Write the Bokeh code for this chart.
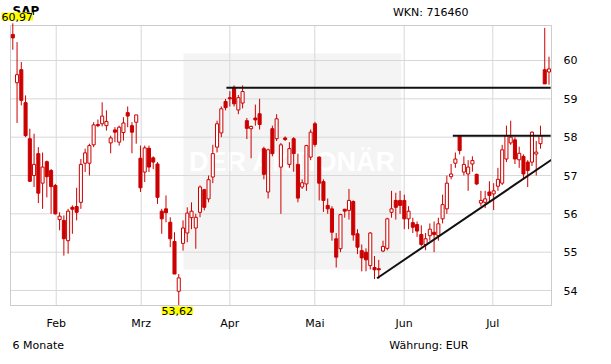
from bokeh.plotting import figure
from bokeh.models import ColumnDataSource, FixedTicker, Label, BoxAnnotation, Range1d
from bokeh.embed import file_html
from bokeh.resources import INLINE

# ---- data ----
opens = [60.68, 59.42, 59.76, 58.90, 57.96, 57.00, 57.57, 56.80, 57.36, 57.13,
         56.74, 55.85, 55.83, 55.30, 56.17, 56.19, 56.30, 57.32, 57.32, 57.80,
         58.33, 58.35, 58.30, 57.85, 58.19, 57.87, 58.12, 58.64, 58.30, 58.39,
         57.45, 57.09, 57.71, 57.46, 57.30, 56.07, 56.13, 55.78, 55.28, 53.98,
         55.23, 55.50, 55.90, 55.63, 56.04, 56.63, 56.39, 56.96, 57.74, 58.11,
         58.93, 59.03, 59.30, 58.71, 58.89, 58.43, 58.22, 58.50, 58.61, 57.70,
         56.57, 58.22, 57.96, 57.22, 57.98, 57.29, 57.96, 57.29, 56.70, 56.78,
         57.48, 58.35, 57.48, 56.84, 56.22, 56.13, 55.35, 55.09, 56.12, 56.09,
         56.32, 55.48, 55.04, 55.00, 54.65, 54.60, 54.57, 55.03, 55.10, 56.04,
         56.35, 56.35, 56.35, 55.87, 55.77, 55.72, 55.46, 55.20, 55.43, 55.52,
         55.43, 55.87, 56.13, 56.97, 57.32, 58.02, 57.09, 57.04, 57.30, 57.03,
         56.28, 56.30, 56.57, 56.52, 56.72, 56.80, 57.43, 57.85, 57.93, 57.41,
         57.50, 57.35, 57.35, 57.56, 57.83, 59.76, 59.70]
highs = [60.97, 60.48, 59.96, 59.09, 58.22, 58.09, 57.74, 57.60, 57.39, 57.17,
         56.78, 56.04, 55.96, 56.13, 56.22, 56.68, 57.43, 57.70, 57.83, 58.39,
         58.46, 58.91, 58.70, 58.04, 58.26, 58.30, 58.52, 58.80, 58.39, 58.58,
         57.78, 57.78, 57.78, 57.50, 57.35, 56.13, 56.48, 55.91, 55.52, 54.43,
         55.83, 56.17, 56.30, 56.00, 56.74, 56.65, 57.00, 57.80, 58.43, 58.80,
         59.00, 59.20, 59.35, 59.10, 59.35, 58.50, 58.30, 58.85, 59.00, 57.75,
         57.70, 58.30, 58.60, 57.85, 58.02, 57.87, 58.00, 57.57, 56.90, 57.80,
         58.20, 58.40, 57.50, 56.90, 56.40, 56.20, 55.50, 56.00, 56.13, 56.65,
         56.35, 55.60, 55.20, 55.10, 55.52, 54.90, 54.80, 55.30, 55.90, 56.60,
         56.55, 56.60, 56.50, 56.20, 55.90, 55.80, 55.70, 55.50, 55.75, 55.80,
         55.90, 56.50, 57.00, 57.30, 57.60, 58.02, 57.50, 57.40, 57.50, 57.05,
         56.60, 56.60, 56.85, 56.80, 57.20, 57.80, 58.30, 58.43, 58.00, 57.75,
         57.55, 57.40, 58.15, 57.90, 58.30, 60.85, 60.10]
lows = [60.28, 58.37, 58.83, 58.00, 56.83, 56.70, 56.28, 56.13, 56.43, 56.00,
        55.98, 55.57, 54.91, 54.96, 55.48, 55.83, 56.13, 57.09, 57.00, 57.74,
        58.26, 58.28, 58.17, 57.58, 57.87, 57.78, 57.91, 58.26, 57.58, 57.83,
        56.57, 56.83, 57.09, 57.17, 56.26, 55.48, 55.78, 55.13, 54.43, 53.62,
        55.04, 55.26, 55.60, 55.09, 55.91, 56.09, 56.30, 56.80, 57.60, 58.00,
        58.70, 58.80, 58.80, 58.60, 58.75, 57.95, 57.45, 58.30, 58.20, 56.90,
        56.40, 57.50, 57.90, 56.00, 57.90, 57.20, 57.10, 56.30, 56.65, 56.60,
        57.40, 57.75, 56.35, 56.05, 56.00, 55.30, 54.60, 55.00, 55.90, 55.85,
        55.30, 54.95, 54.50, 54.50, 54.55, 54.30, 54.31, 55.00, 55.05, 55.90,
        55.85, 56.00, 55.60, 55.60, 55.50, 55.40, 55.15, 55.05, 55.30, 55.00,
        55.30, 55.75, 56.00, 56.90, 57.20, 57.55, 57.00, 56.60, 57.10, 56.75,
        56.20, 56.15, 56.30, 56.10, 56.60, 56.75, 57.35, 57.80, 57.30, 57.20,
        56.90, 56.70, 57.25, 57.00, 57.70, 59.39, 59.37]
closes = [60.59, 59.63, 58.96, 58.04, 56.85, 57.29, 56.54, 57.22, 56.97, 56.71,
          56.00, 55.94, 55.35, 56.07, 56.12, 56.04, 57.29, 57.59, 57.78, 58.32,
          58.30, 58.55, 58.41, 57.98, 58.13, 58.26, 58.37, 58.55, 58.13, 58.58,
          56.68, 57.72, 57.22, 57.35, 56.43, 55.87, 56.03, 55.35, 54.43, 54.33,
          55.63, 56.02, 56.07, 55.91, 56.70, 56.17, 56.89, 57.57, 58.35, 58.74,
          58.77, 59.00, 58.87, 59.03, 59.19, 58.23, 58.28, 58.45, 58.33, 57.03,
          57.67, 57.57, 58.48, 57.80, 57.94, 57.70, 57.57, 56.41, 56.81, 57.78,
          58.13, 57.81, 56.80, 56.35, 56.13, 55.52, 54.87, 55.98, 56.07, 56.35,
          55.45, 55.13, 54.85, 54.80, 55.50, 54.54, 54.54, 55.15, 55.87, 56.13,
          56.17, 56.22, 55.87, 56.07, 55.65, 55.55, 55.20, 55.35, 55.60, 55.46,
          55.74, 56.24, 56.80, 57.04, 57.43, 57.65, 57.29, 57.22, 57.39, 56.78,
          56.35, 56.39, 56.48, 56.60, 56.90, 57.67, 58.04, 58.00, 57.43, 57.58,
          57.04, 57.13, 58.13, 57.61, 58.04, 59.39, 59.78]

month_pos = [10.2, 30.17, 50.99, 70.97, 91.97, 112.79]
month_labels = ["Feb", "Mrz", "Apr", "Mai", "Jun", "Jul"]
price_ticks = [54, 55, 56, 57, 58, 59, 60]

resist_x0 = [50.2, 103.4]
resist_x1 = [126.4, 126.4]
resist_y = [59.29, 58.04]
support_x = [85.6, 126.59]
support_y = [54.32, 57.41]

# chart box (data units) and full-canvas ranges
XL, XR = -0.54, 126.59
YB, YT = 53.609, 60.913
CX0, CX1 = -2.890, 140.689
CY0, CY1 = 52.070, 61.565

RED = "#cc0000"
GRID = "#d8d8d8"
FONT = "DejaVu Sans"

n = len(opens)
xs = list(range(n))
src = ColumnDataSource(dict(
    x=xs, o=opens, h=highs, l=lows, c=closes,
    top=[max(a, b) for a, b in zip(opens, closes)],
    bottom=[min(a, b) for a, b in zip(opens, closes)],
    fill=["white" if c >= o else RED for o, c in zip(opens, closes)],
))

p = figure(width=611, height=364, x_range=Range1d(CX0, CX1),
           y_range=Range1d(CY0, CY1), output_backend="svg",
           toolbar_location=None, y_axis_location="right",
           min_border=0)
p.outline_line_color = None
p.background_fill_color = "white"
p.border_fill_color = "white"
p.xgrid.visible = False
p.ygrid.visible = False

# watermark block
p.add_layout(BoxAnnotation(left=40.1, right=91.3, bottom=54.55, top=60.18,
                           fill_color="#f4f4f4", fill_alpha=1.0, line_color=None,
                           level="image"))
p.add_layout(Label(x=292, y=203, x_units="screen", y_units="screen",
                   text="DER AKTIONÄR", text_font="Liberation Sans",
                   text_font_style="bold", text_font_size="27px",
                   text_color="#ffffff", text_align="center",
                   text_baseline="middle", level="image"))

# grid lines at tick positions
p.segment(x0=month_pos, y0=[YB] * len(month_pos), x1=month_pos, y1=[YT] * len(month_pos),
          line_color=GRID, line_width=1)
p.segment(x0=[XL] * len(price_ticks), y0=price_ticks, x1=[XR] * len(price_ticks),
          y1=price_ticks, line_color=GRID, line_width=1)
# chart frame
p.quad(left=[XL], right=[XR], bottom=[YB], top=[YT], fill_color=None,
       line_color="#cccccc", line_width=1)

# axes
p.xaxis.ticker = FixedTicker(ticks=month_pos)
p.xaxis.major_label_overrides = {pos: lab for pos, lab in zip(month_pos, month_labels)}
p.xaxis.fixed_location = YB
p.xaxis.bounds = (XL, XR)
p.yaxis.ticker = FixedTicker(ticks=price_ticks)
p.yaxis.fixed_location = XR
p.yaxis.bounds = (YB, YT)
for ax in (p.xaxis[0], p.yaxis[0]):
    ax.axis_line_color = "#cccccc"
    ax.major_tick_line_color = None
    ax.minor_tick_line_color = None
    ax.major_label_text_font = FONT
    ax.major_label_text_font_size = "11px"
    ax.major_label_text_color = "black"
p.xaxis.major_label_standoff = 5
p.yaxis.major_label_standoff = 6

# candles
p.segment(x0="x", y0="h", x1="x", y1="l", source=src, line_color=RED, line_width=1)
p.vbar(x="x", width=0.72, top="top", bottom="bottom", source=src,
       fill_color="fill", line_color=RED, line_width=1)

# trend lines
p.segment(x0=resist_x0, y0=resist_y, x1=resist_x1, y1=resist_y,
          line_color="#111111", line_width=2)
p.line(support_x, support_y, line_color="#111111", line_width=2)

# texts (screen units = canvas pixels, y from bottom)
def lab(x, y, text, **kw):
    d = dict(x=x, y=y, x_units="screen", y_units="screen", text=text,
             text_font=FONT, text_font_size="11px", text_color="black")
    d.update(kw)
    p.add_layout(Label(**d))

lab(12, 347, "SAP", text_font_style="bold", text_font_size="12px")
lab(1, 344, "60,97", text_baseline="bottom", background_fill_color="#ffff00", padding=0)
lab(161, 58, "53,62", text_baseline="top", background_fill_color="#ffff00", padding=0)
lab(468, 346, "WKN: 716460", text_align="right")
lab(12, 13, "6 Monate")
lab(468, 13, "Währung: EUR", text_align="right")

open("out.html", "w").write(file_html(p, INLINE))
